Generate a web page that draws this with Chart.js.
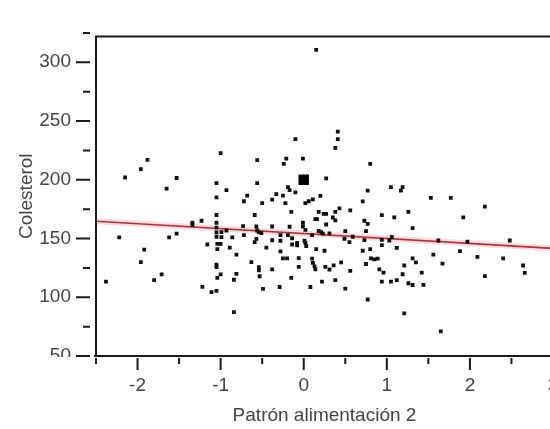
<!DOCTYPE html>
<html>
<head>
<meta charset="utf-8">
<script src="https://cdn.jsdelivr.net/npm/chart.js@4"></script>
<style>
  html, body { margin: 0; padding: 0; background: #fff; overflow: hidden; width: 550px; height: 429px; }
  #wrap { width: 580px; height: 429px; }
</style>
</head>
<body>
<div id="wrap"><canvas id="c" width="580" height="429"></canvas></div>
<script>
// ---- data ----
const patron = [
  -2.38,-2.22,-2.15,-1.96,-1.96,-1.92,-1.88,-1.80,-1.71,-1.65,-1.62,-1.53,-1.53,-1.34,-1.34,-1.23,-1.22,-1.16,-1.11,-1.05,
  -1.05,-1.05,-1.04,-1.04,-1.00,-1.04,-1.00,-1.05,-1.05,-1.05,-1.05,-1.05,-1.05,-1.05,-0.99,-1.00,-0.93,-0.93,-0.89,-0.86,
  -0.81,-0.81,-0.84,-0.84,-0.73,-0.72,-0.72,-0.68,-0.63,-0.59,-0.57,-0.59,-0.56,-0.56,-0.57,-0.56,-0.54,-0.51,-0.54,-0.54,
  -0.53,-0.50,-0.49,-0.45,-0.38,-0.38,-0.38,-0.38,-0.33,-0.28,-0.28,-0.28,-0.25,-0.20,-0.29,-0.25,-0.24,-0.21,-0.22,-0.19,
  -0.17,-0.10,-0.15,-0.19,-0.17,-0.14,-0.14,-0.10,-0.08,-0.08,-0.15,-0.06,-0.06,-0.01,-0.01,-0.01,0.02,0.01,0.02,0.03,
  0.02,0.06,0.11,0.10,0.08,0.10,0.11,0.13,0.14,0.15,0.14,0.16,0.15,0.18,0.18,0.21,0.23,0.31,0.20,0.24,
  0.27,0.27,0.27,0.25,0.22,0.26,0.31,0.36,0.35,0.38,0.38,0.43,0.38,0.38,0.41,0.41,0.45,0.49,0.55,0.50,
  0.59,0.56,0.50,0.56,0.71,0.71,0.73,0.77,0.75,0.73,0.75,0.80,0.77,0.80,0.77,0.81,0.85,0.89,0.91,0.96,
  0.94,0.94,0.94,0.94,1.05,1.17,1.19,1.09,1.26,1.06,1.03,1.12,1.05,1.12,1.21,1.19,1.26,1.31,1.31,1.35,
  1.31,1.21,1.42,1.44,1.53,1.56,1.62,1.67,1.65,1.77,1.88,1.92,1.97,2.09,2.18,2.18,2.40,2.48,2.64,2.66,
  -0.99
];
const colesterol = [
  113.3,151.0,201.9,209.0,129.9,140.6,216.9,114.6,119.4,192.4,151.0,201.5,154.2,163.4,161.5,165.1,108.8,144.9,104.3,105.4,
  127.8,125.7,141.0,145.5,145.5,116.5,119.4,197.1,185.0,170.0,163.4,159.2,155.2,151.5,155.5,222.7,191.1,156.8,142.3,151.0,
  136.2,119.9,114.9,87.4,160.5,152.8,181.7,186.5,129.9,170.0,149.7,146.9,216.7,197.1,160.2,156.8,155.5,154.7,125.6,122.8,
  117.9,180.1,107.2,142.3,183.1,160.2,148.5,123.8,187.7,148.1,152.8,139.0,133.1,133.1,108.7,186.5,213.5,218.0,180.1,193.7,
  191.2,189.2,172.6,152.8,160.0,150.2,144.9,234.6,146.3,144.1,116.5,133.3,125.8,218.0,163.4,160.2,157.4,148.1,146.3,143.6,
  180.1,181.7,183.3,152.8,108.7,132.8,129.3,126.2,123.8,310.5,166.5,166.5,141.0,172.6,156.4,155.5,154.2,154.4,186.3,171.0,
  171.0,201.1,161.9,139.6,113.3,125.8,123.6,127.1,167.9,165.5,172.6,175.6,114.6,227.2,234.6,240.9,129.7,149.7,146.9,156.2,
  151.5,174.0,107.4,122.5,181.6,139.6,165.1,162.5,156.2,148.6,128.3,141.0,190.8,213.5,98.1,133.1,132.3,132.8,123.8,121.0,
  113.3,169.9,148.9,144.3,193.7,190.8,193.7,168.0,172.6,151.3,148.3,142.0,113.3,114.6,127.0,119.6,111.9,110.4,133.1,129.7,
  158.8,86.2,121.0,110.5,184.5,136.2,148.3,128.6,71.0,184.5,139.2,168.0,147.3,134.4,177.1,118.0,133.1,148.3,127.0,120.8,
  151.2
];
const meanX = [0];
const meanY = [200];
const fitX = [-2.5, 3];
const fitY = [164.7, 141.6];
const xTicks = [-2, -1, 0, 1, 2, 3];
const xMinorTicks = [-2.5, -1.5, -0.5, 0.5, 1.5, 2.5];
const yTicks = [50, 100, 150, 200, 250, 300];
const yMinorTicks = [75, 125, 175, 225, 275, 325];
const xTitle = 'Patrón alimentación 2';
const yTitle = 'Colesterol';

const FONT = "'Liberation Sans', Arial, sans-serif";
const TXT = '#444';

const toPts = (xs, ys) => xs.map((v, i) => ({x: v, y: ys[i]}));

const axesPlugin = {
  id: 'axesPlugin',
  afterDraw(chart) {
    const {ctx, chartArea: a, scales: {x, y}} = chart;
    ctx.save();
    // lowest y label is partly hidden under the x axis in the reference
    ctx.fillStyle = '#fff';
    ctx.fillRect(y.left, x.top + 1, (y.right - y.left) - 22, 14);
    ctx.strokeStyle = '#1a1a1a';
    ctx.lineWidth = 2;
    ctx.beginPath();
    ctx.moveTo(a.left, a.top); ctx.lineTo(a.right, a.top);
    ctx.moveTo(a.left, a.top - 1); ctx.lineTo(a.left, a.bottom + 1);
    ctx.moveTo(a.left - 2, a.bottom); ctx.lineTo(a.right, a.bottom);
    ctx.stroke();
    ctx.beginPath();
    yTicks.forEach(v => { const p = y.getPixelForValue(v); ctx.moveTo(a.left - 20, p); ctx.lineTo(a.left - 6, p); });
    yMinorTicks.forEach(v => { const p = y.getPixelForValue(v); ctx.moveTo(a.left - 13, p); ctx.lineTo(a.left - 6, p); });
    xTicks.forEach(v => { const p = x.getPixelForValue(v); ctx.moveTo(p, a.bottom + 2); ctx.lineTo(p, a.bottom + 14); });
    xMinorTicks.forEach(v => { const p = x.getPixelForValue(v); ctx.moveTo(p, a.bottom + 2); ctx.lineTo(p, a.bottom + 8); });
    ctx.stroke();
    ctx.restore();
  }
};

new Chart(document.getElementById('c'), {
  type: 'scatter',
  data: {
    datasets: [
      {
        type: 'line', data: toPts(fitX, fitY), borderColor: 'rgba(236,140,150,0.3)', borderWidth: 6,
        pointRadius: 0, order: 3
      },
      {
        type: 'line', data: toPts(fitX, fitY), borderColor: '#b8303a', borderWidth: 1.6,
        pointRadius: 0, order: 2
      },
      {
        data: toPts(patron, colesterol), pointStyle: 'rect', pointRadius: 2.7,
        backgroundColor: '#111', borderWidth: 0, order: 1
      },
      {
        data: toPts(meanX, meanY), pointStyle: 'rect', pointRadius: 7.4,
        backgroundColor: '#000', borderWidth: 0, order: 0
      }
    ]
  },
  options: {
    responsive: false,
    animation: false,
    events: [],
    layout: { padding: { top: 11, right: 27, left: 0, bottom: 0 } },
    plugins: { legend: { display: false }, tooltip: { enabled: false } },
    scales: {
      x: {
        type: 'linear', min: -2.5, max: 3,
        grid: { display: false, drawTicks: false },
        border: { display: false },
        afterBuildTicks: s => { s.ticks = xTicks.map(v => ({value: v})); },
        afterFit: s => { s.height = 73; },
        ticks: { padding: 18, color: TXT, font: { family: FONT, size: 19 }, callback: v => String(v) },
        title: { display: true, text: xTitle, color: TXT, font: { family: FONT, size: 19 }, padding: { top: 0, bottom: 2 } }
      },
      y: {
        type: 'linear', min: 50, max: 322,
        grid: { display: false, drawTicks: false },
        border: { display: false },
        afterBuildTicks: s => { s.ticks = yTicks.map(v => ({value: v})); },
        afterFit: s => { s.width = 96; },
        ticks: { padding: 25, color: TXT, font: { family: FONT, size: 19 }, callback: v => String(v) },
        title: { display: true, text: yTitle, color: TXT, font: { family: FONT, size: 19 }, padding: { top: 15, bottom: 0 } }
      }
    }
  },
  plugins: [axesPlugin]
});
</script>
</body>
</html>
